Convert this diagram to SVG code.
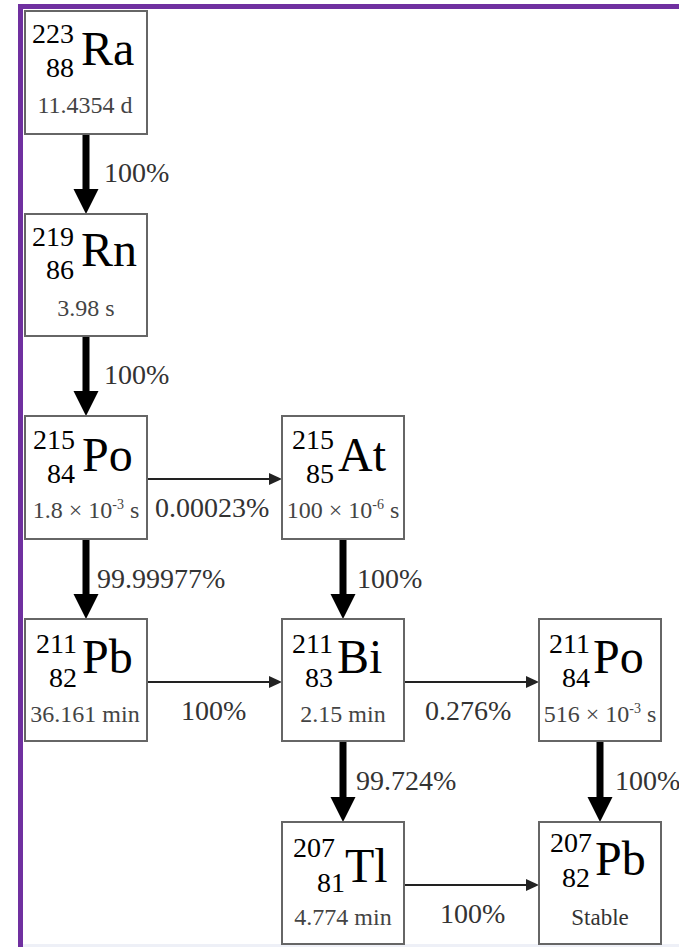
<svg xmlns="http://www.w3.org/2000/svg" width="679" height="947" viewBox="0 0 679 947">
<style>
.box{fill:#fff;stroke:#666;stroke-width:2}
.mass{font-family:"Liberation Serif",serif;font-size:28px;fill:#000;text-anchor:end}
.z{font-family:"Liberation Serif",serif;font-size:28px;fill:#000;text-anchor:end}
.sym{font-family:"Liberation Serif",serif;font-size:48px;fill:#000}
.hl{font-family:"Liberation Serif",serif;font-size:24px;fill:#444;text-anchor:middle}
.sup{font-size:14px}
.lbl{font-family:"Liberation Serif",serif;font-size:28px;fill:#333}
.thick{stroke:#000;stroke-width:7;stroke-linecap:round;fill:none}
.thin{stroke:#222;stroke-width:2;fill:none}
.headB{fill:#000}
.headT{fill:#222}
</style>
<rect x="0" y="0" width="679" height="947" fill="#fff"/>
<rect x="18" y="4" width="661" height="5" fill="#7030A0"/>
<rect x="18" y="4" width="5" height="943" fill="#7030A0"/>
<rect x="23" y="944" width="656" height="3" fill="#eef0f7"/>

<g id="connectors">
  <line class="thick" x1="86" y1="135" x2="86" y2="190"/>
  <polygon class="headB" points="73.5,189 98.5,189 86,214"/>
  <line class="thick" x1="86" y1="337" x2="86" y2="392"/>
  <polygon class="headB" points="73.5,391 98.5,391 86,416"/>
  <line class="thick" x1="86" y1="540" x2="86" y2="595"/>
  <polygon class="headB" points="73.5,594 98.5,594 86,619"/>
  <line class="thick" x1="343" y1="540" x2="343" y2="595"/>
  <polygon class="headB" points="330.5,594 355.5,594 343,619"/>
  <line class="thick" x1="343" y1="742" x2="343" y2="798"/>
  <polygon class="headB" points="330.5,797 355.5,797 343,822"/>
  <line class="thick" x1="600" y1="742" x2="600" y2="798"/>
  <polygon class="headB" points="587.5,797 612.5,797 600,822"/>
  <line class="thin" x1="147" y1="479" x2="272" y2="479"/>
  <polygon class="headT" points="269,473 282,479 269,485"/>
  <line class="thin" x1="147" y1="682" x2="272" y2="682"/>
  <polygon class="headT" points="269,676 282,682 269,688"/>
  <line class="thin" x1="404" y1="682" x2="529" y2="682"/>
  <polygon class="headT" points="526,676 539,682 526,688"/>
  <line class="thin" x1="404" y1="885" x2="529" y2="885"/>
  <polygon class="headT" points="526,879 539,885 526,891"/>
  <text class="lbl" x="104" y="182">100%</text>
  <text class="lbl" x="104" y="384">100%</text>
  <text class="lbl" x="97" y="588">99.99977%</text>
  <text class="lbl" x="357" y="588">100%</text>
  <text class="lbl" x="356" y="790">99.724%</text>
  <text class="lbl" x="615" y="790">100%</text>
  <text class="lbl" x="155" y="517">0.00023%</text>
  <text class="lbl" x="181" y="720">100%</text>
  <text class="lbl" x="425" y="720">0.276%</text>
  <text class="lbl" x="440" y="923">100%</text>
</g>

<g id="Ra223">
  <rect class="box" x="25" y="11" width="122" height="123"/>
  <text class="mass" x="74" y="43">223</text>
  <text class="z" x="74" y="77">88</text>
  <text class="sym" x="81" y="65">Ra</text>
  <text class="hl" x="85" y="113">11.4354 d</text>
</g>
<g id="Rn219">
  <rect class="box" x="25" y="214" width="122" height="122"/>
  <text class="mass" x="74" y="246">219</text>
  <text class="z" x="74" y="279">86</text>
  <text class="sym" x="81" y="266">Rn</text>
  <text class="hl" x="86" y="316">3.98 s</text>
</g>
<g id="Po215">
  <rect class="box" x="25" y="416" width="122" height="123"/>
  <text class="mass" x="75" y="449">215</text>
  <text class="z" x="75" y="483">84</text>
  <text class="sym" x="82" y="471">Po</text>
  <text class="hl" x="86" y="518">1.8 × 10<tspan class="sup" dy="-9">-3</tspan><tspan dy="9"> s</tspan></text>
</g>
<g id="At215">
  <rect class="box" x="282" y="416" width="122" height="123"/>
  <text class="mass" x="334" y="449">215</text>
  <text class="z" x="334" y="483">85</text>
  <text class="sym" x="338" y="471">At</text>
  <text class="hl" x="343" y="518">100 × 10<tspan class="sup" dy="-9">-6</tspan><tspan dy="9"> s</tspan></text>
</g>
<g id="Pb211">
  <rect class="box" x="25" y="619" width="122" height="122"/>
  <text class="mass" x="77" y="653">211</text>
  <text class="z" x="77" y="687">82</text>
  <text class="sym" x="82" y="673">Pb</text>
  <text class="hl" x="85" y="722">36.161 min</text>
</g>
<g id="Bi211">
  <rect class="box" x="282" y="619" width="122" height="122"/>
  <text class="mass" x="333" y="653">211</text>
  <text class="z" x="333" y="687">83</text>
  <text class="sym" x="337" y="673">Bi</text>
  <text class="hl" x="343" y="722">2.15 min</text>
</g>
<g id="Po211">
  <rect class="box" x="539" y="619" width="122" height="122"/>
  <text class="mass" x="590" y="653">211</text>
  <text class="z" x="590" y="687">84</text>
  <text class="sym" x="593" y="673">Po</text>
  <text class="hl" x="600" y="722">516 × 10<tspan class="sup" dy="-9">-3</tspan><tspan dy="9"> s</tspan></text>
</g>
<g id="Tl207">
  <rect class="box" x="282" y="822" width="122" height="122"/>
  <text class="mass" x="335" y="857">207</text>
  <text class="z" x="345" y="892">81</text>
  <text class="sym" x="345" y="882">Tl</text>
  <text class="hl" x="343" y="925">4.774 min</text>
</g>
<g id="Pb207">
  <rect class="box" x="539" y="822" width="122" height="122"/>
  <text class="mass" x="592" y="852">207</text>
  <text class="z" x="590" y="887">82</text>
  <text class="sym" x="595" y="875">Pb</text>
  <text class="hl" x="600" y="925" style="font-size:23px;fill:#333">Stable</text>
</g>
</svg>
